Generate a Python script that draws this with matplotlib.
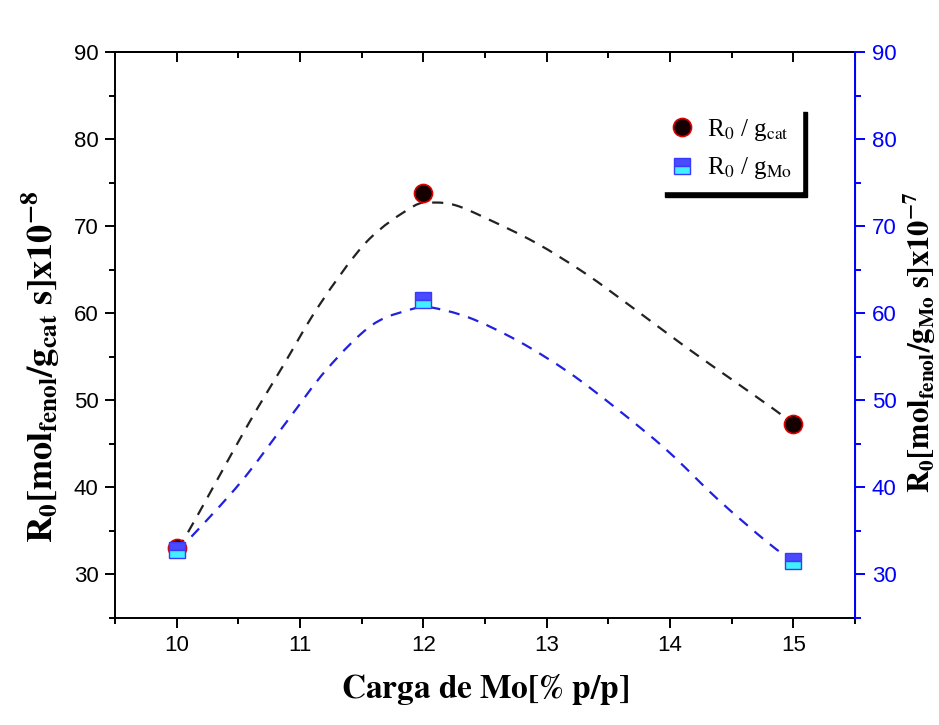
import matplotlib
matplotlib.use("Agg")
import matplotlib.pyplot as plt
from matplotlib.path import Path
from matplotlib.patches import PathPatch
from matplotlib.ticker import MultipleLocator

# measured points
carga = [10, 12, 15]
r0_gcat = [33.0, 73.8, 47.3]
r0_gmo = [32.8, 61.5, 31.5]

# dashed trend curves
fit_cat_x = [10.0, 10.09, 10.57, 10.86, 11.16, 11.54, 11.91, 12.07, 12.26,
             12.51, 12.91, 13.31, 13.72, 14.12, 14.52, 14.84, 15.0]
fit_cat_y = [33.0, 34.8, 47.0, 53.9, 61.0, 68.2, 72.2, 72.7, 72.4,
             70.9, 68.1, 64.6, 60.4, 56.2, 52.2, 49.0, 47.3]
fit_mo_x = [10.0, 10.11, 10.52, 10.89, 11.22, 11.59, 11.94, 12.05, 12.37,
            12.77, 13.18, 13.58, 13.98, 14.39, 14.79, 15.0]
fit_mo_y = [32.8, 34.2, 40.6, 47.5, 53.6, 58.7, 60.6, 60.7, 59.5,
            56.8, 53.2, 48.9, 44.2, 38.6, 33.7, 31.5]

plt.rcParams.update({
    "font.family": "Liberation Sans",
    "mathtext.fontset": "stix",
})

BLUE = "#0000ff"


def smooth_path(xs, ys):
    """Catmull-Rom through the read points, as cubic Bezier segments."""
    pts = list(zip(xs, ys))
    verts = [pts[0]]
    codes = [Path.MOVETO]
    n = len(pts)
    for i in range(n - 1):
        p0 = pts[max(i - 1, 0)]
        p1 = pts[i]
        p2 = pts[i + 1]
        p3 = pts[min(i + 2, n - 1)]
        c1 = (p1[0] + (p2[0] - p0[0]) / 6, p1[1] + (p2[1] - p0[1]) / 6)
        c2 = (p2[0] - (p3[0] - p1[0]) / 6, p2[1] - (p3[1] - p1[1]) / 6)
        verts += [c1, c2, p2]
        codes += [Path.CURVE4] * 3
    return Path(verts, codes)


fig = plt.figure(figsize=(9.39, 7.25), dpi=100)
ax = fig.add_axes([0.1225, 0.1476, 0.788, 0.7807])
ax2 = ax.twinx()

ax.add_patch(PathPatch(smooth_path(fit_cat_x, fit_cat_y), fill=False,
                       edgecolor="#222222", lw=1.6, ls=(0, (5, 4)), zorder=2))
ax2.add_patch(PathPatch(smooth_path(fit_mo_x, fit_mo_y), fill=False,
                        edgecolor="#2020e0", lw=1.6, ls=(0, (5, 4)), zorder=2))

ax.plot(carga, r0_gcat, "o", ms=13, mfc="#150000", mec="#e00000", mew=1.2,
        ls="none", zorder=3, label=r"R$_0$ / g$_{\rm cat}$")
ax2.plot(carga, r0_gmo, "s", ms=11.5, mfc="#4a4aff", mfcalt="#40f0ff",
         fillstyle="top", mec="#3a3aff", mew=1.0, ls="none", zorder=3,
         label=r"R$_0$ / g$_{\rm Mo}$")

for a in (ax, ax2):
    a.set_xlim(9.5, 15.5)
    a.set_ylim(25, 90)
    a.yaxis.set_major_locator(MultipleLocator(10))
    a.yaxis.set_minor_locator(MultipleLocator(5))

ax.xaxis.set_major_locator(MultipleLocator(1))
ax.xaxis.set_minor_locator(MultipleLocator(0.5))
ax.tick_params(axis="both", which="major", direction="out", length=7, width=1.4,
               labelsize=16, pad=5)
ax.tick_params(axis="both", which="minor", direction="out", length=4, width=1.4)
ax2.tick_params(axis="y", which="major", direction="out", length=7, width=1.4,
                colors=BLUE, labelsize=16, pad=5)
ax2.tick_params(axis="y", which="minor", direction="out", length=4, width=1.4,
                colors=BLUE)

top = ax.secondary_xaxis("top")
top.xaxis.set_major_locator(MultipleLocator(1))
top.xaxis.set_minor_locator(MultipleLocator(0.5))
top.tick_params(which="major", direction="in", length=7, width=1.4, labeltop=False)
top.tick_params(which="minor", direction="in", length=4, width=1.4)
top.spines["top"].set_linewidth(1.4)

for s in ("left", "bottom", "top"):
    ax.spines[s].set_linewidth(1.4)
ax2.spines["right"].set_color(BLUE)
ax2.spines["right"].set_linewidth(1.4)
for s in ("left", "bottom", "top"):
    ax2.spines[s].set_visible(False)

ax.set_xlabel(r"$\mathbf{Carga\ de\ Mo[\%\ p/p]}$", fontsize=24, labelpad=12)
ax.set_ylabel(r"$\mathbf{R_0[mol_{fenol}/g_{cat}\ s]x10^{-8}}$", fontsize=26)
ax.yaxis.set_label_coords(-0.072, 0.443)
ax2.set_ylabel(r"$\mathbf{R_0[mol_{fenol}/g_{Mo}\ s]x10^{-7}}$", fontsize=22)
ax2.yaxis.set_label_coords(1.063, 0.488)

handles = [ax.lines[0], ax2.lines[0]]
leg = ax.legend(handles, [h.get_label() for h in handles],
                loc="upper right", bbox_to_anchor=(0.945, 0.925),
                prop={"family": "Liberation Serif", "size": 18},
                fancybox=False, edgecolor="white", framealpha=1,
                shadow={"ox": 4, "oy": -4, "color": "black", "alpha": 1},
                handletextpad=0.5, borderpad=0.4, labelspacing=0.5,
                handlelength=1.0)

fig.savefig("out.png", dpi=100)
